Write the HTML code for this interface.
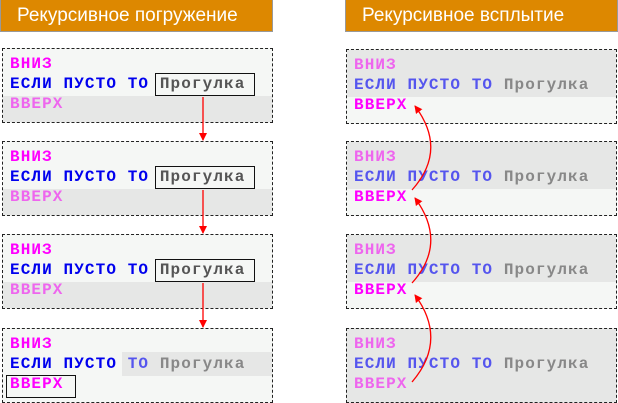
<!DOCTYPE html>
<html><head><meta charset="utf-8"><style>
body{margin:0;width:618px;height:400px;background:#fff;position:relative;overflow:hidden;font-family:"Liberation Sans","Noto Sans CJK JP",sans-serif}
.h{position:absolute;top:0;height:32px;background:#dd8800;border:1px solid #999;border-top:none;color:#fff;font-size:19px;line-height:31px;box-sizing:border-box}
.b{position:absolute;width:271px;height:75px;border:1px dashed #222;box-sizing:border-box;background:#f5f7f5;overflow:hidden}
.g{position:absolute;background:#e6e7e6}
.t{position:absolute;left:7px;font-family:"Liberation Mono",monospace;font-weight:bold;font-size:16px;letter-spacing:1.1px;white-space:pre;line-height:20px}
.m{color:#ff00ff}.md{color:#ee66ee}.bl{color:#0000ee}.bd{color:#5555ee}.gr{color:#555}.gd{color:#888}
.bx{position:absolute;border:1.5px solid #111;box-sizing:border-box}
</style></head><body>
<div class="h" style="left:0;width:273px;padding-left:16px">Рекурсивное погружение</div>
<div class="h" style="left:345px;width:273px;padding-left:16px">Рекурсивное всплытие</div>

<!-- left boxes -->
<div class="b" style="left:2px;top:48px"><div class="g" style="left:0;top:47px;width:271px;height:30px"></div>
<div class="t" style="top:5px"><span class="m">ВНИЗ</span>
<span class="bl">ЕСЛИ ПУСТО ТО </span><span class="gr">Прогулка</span>
<span class="md">ВВЕРХ</span></div>
<div class="bx" style="left:152px;top:24px;width:100px;height:23px"></div></div>

<div class="b" style="left:2px;top:141px"><div class="g" style="left:0;top:47px;width:271px;height:30px"></div>
<div class="t" style="top:5px"><span class="m">ВНИЗ</span>
<span class="bl">ЕСЛИ ПУСТО ТО </span><span class="gr">Прогулка</span>
<span class="md">ВВЕРХ</span></div>
<div class="bx" style="left:152px;top:24px;width:100px;height:23px"></div></div>

<div class="b" style="left:2px;top:234px"><div class="g" style="left:0;top:47px;width:271px;height:30px"></div>
<div class="t" style="top:5px"><span class="m">ВНИЗ</span>
<span class="bl">ЕСЛИ ПУСТО ТО </span><span class="gr">Прогулка</span>
<span class="md">ВВЕРХ</span></div>
<div class="bx" style="left:152px;top:24px;width:100px;height:23px"></div></div>

<div class="b" style="left:2px;top:328px"><div class="g" style="left:119px;top:23px;width:152px;height:24px"></div>
<div class="t" style="top:5px"><span class="m">ВНИЗ</span>
<span class="bl">ЕСЛИ ПУСТО </span><span class="bd">ТО </span><span class="gd">Прогулка</span>
<span class="m">ВВЕРХ</span></div>
<div class="bx" style="left:3px;top:46px;width:70px;height:23px"></div></div>

<!-- right boxes -->
<div class="b" style="left:346px;top:49px"><div class="g" style="left:0;top:0;width:271px;height:47px"></div>
<div class="t" style="top:5px"><span class="md">ВНИЗ</span>
<span class="bd">ЕСЛИ ПУСТО ТО </span><span class="gd">Прогулка</span>
<span class="m">ВВЕРХ</span></div></div>

<div class="b" style="left:346px;top:141px"><div class="g" style="left:0;top:0;width:271px;height:47px"></div>
<div class="t" style="top:5px"><span class="md">ВНИЗ</span>
<span class="bd">ЕСЛИ ПУСТО ТО </span><span class="gd">Прогулка</span>
<span class="m">ВВЕРХ</span></div></div>

<div class="b" style="left:346px;top:234px"><div class="g" style="left:0;top:0;width:271px;height:47px"></div>
<div class="t" style="top:5px"><span class="md">ВНИЗ</span>
<span class="bd">ЕСЛИ ПУСТО ТО </span><span class="gd">Прогулка</span>
<span class="m">ВВЕРХ</span></div></div>

<div class="b" style="left:346px;top:328px;background:#e6e7e6">
<div class="t" style="top:5px"><span class="md">ВНИЗ</span>
<span class="bd">ЕСЛИ ПУСТО ТО </span><span class="gd">Прогулка</span>
<span class="md">ВВЕРХ</span></div></div>

<svg width="618" height="400" style="position:absolute;left:0;top:0">
<defs><marker id="a" markerWidth="8" markerHeight="8" refX="7" refY="4" orient="auto" markerUnits="userSpaceOnUse"><path d="M0,0 L8,4 L0,8 z" fill="#f00"/></marker></defs>
<g stroke="#f00" stroke-width="1.3" fill="none" marker-end="url(#a)">
<line x1="203" y1="97" x2="203" y2="140"/>
<line x1="203" y1="190" x2="203" y2="233"/>
<line x1="203" y1="283" x2="203" y2="327"/>
<path d="M412,190 Q448,150 415,106"/>
<path d="M412,283 Q448,243 415,198"/>
<path d="M412,382 Q448,340 415,295"/>
</g></svg>
</body></html>
